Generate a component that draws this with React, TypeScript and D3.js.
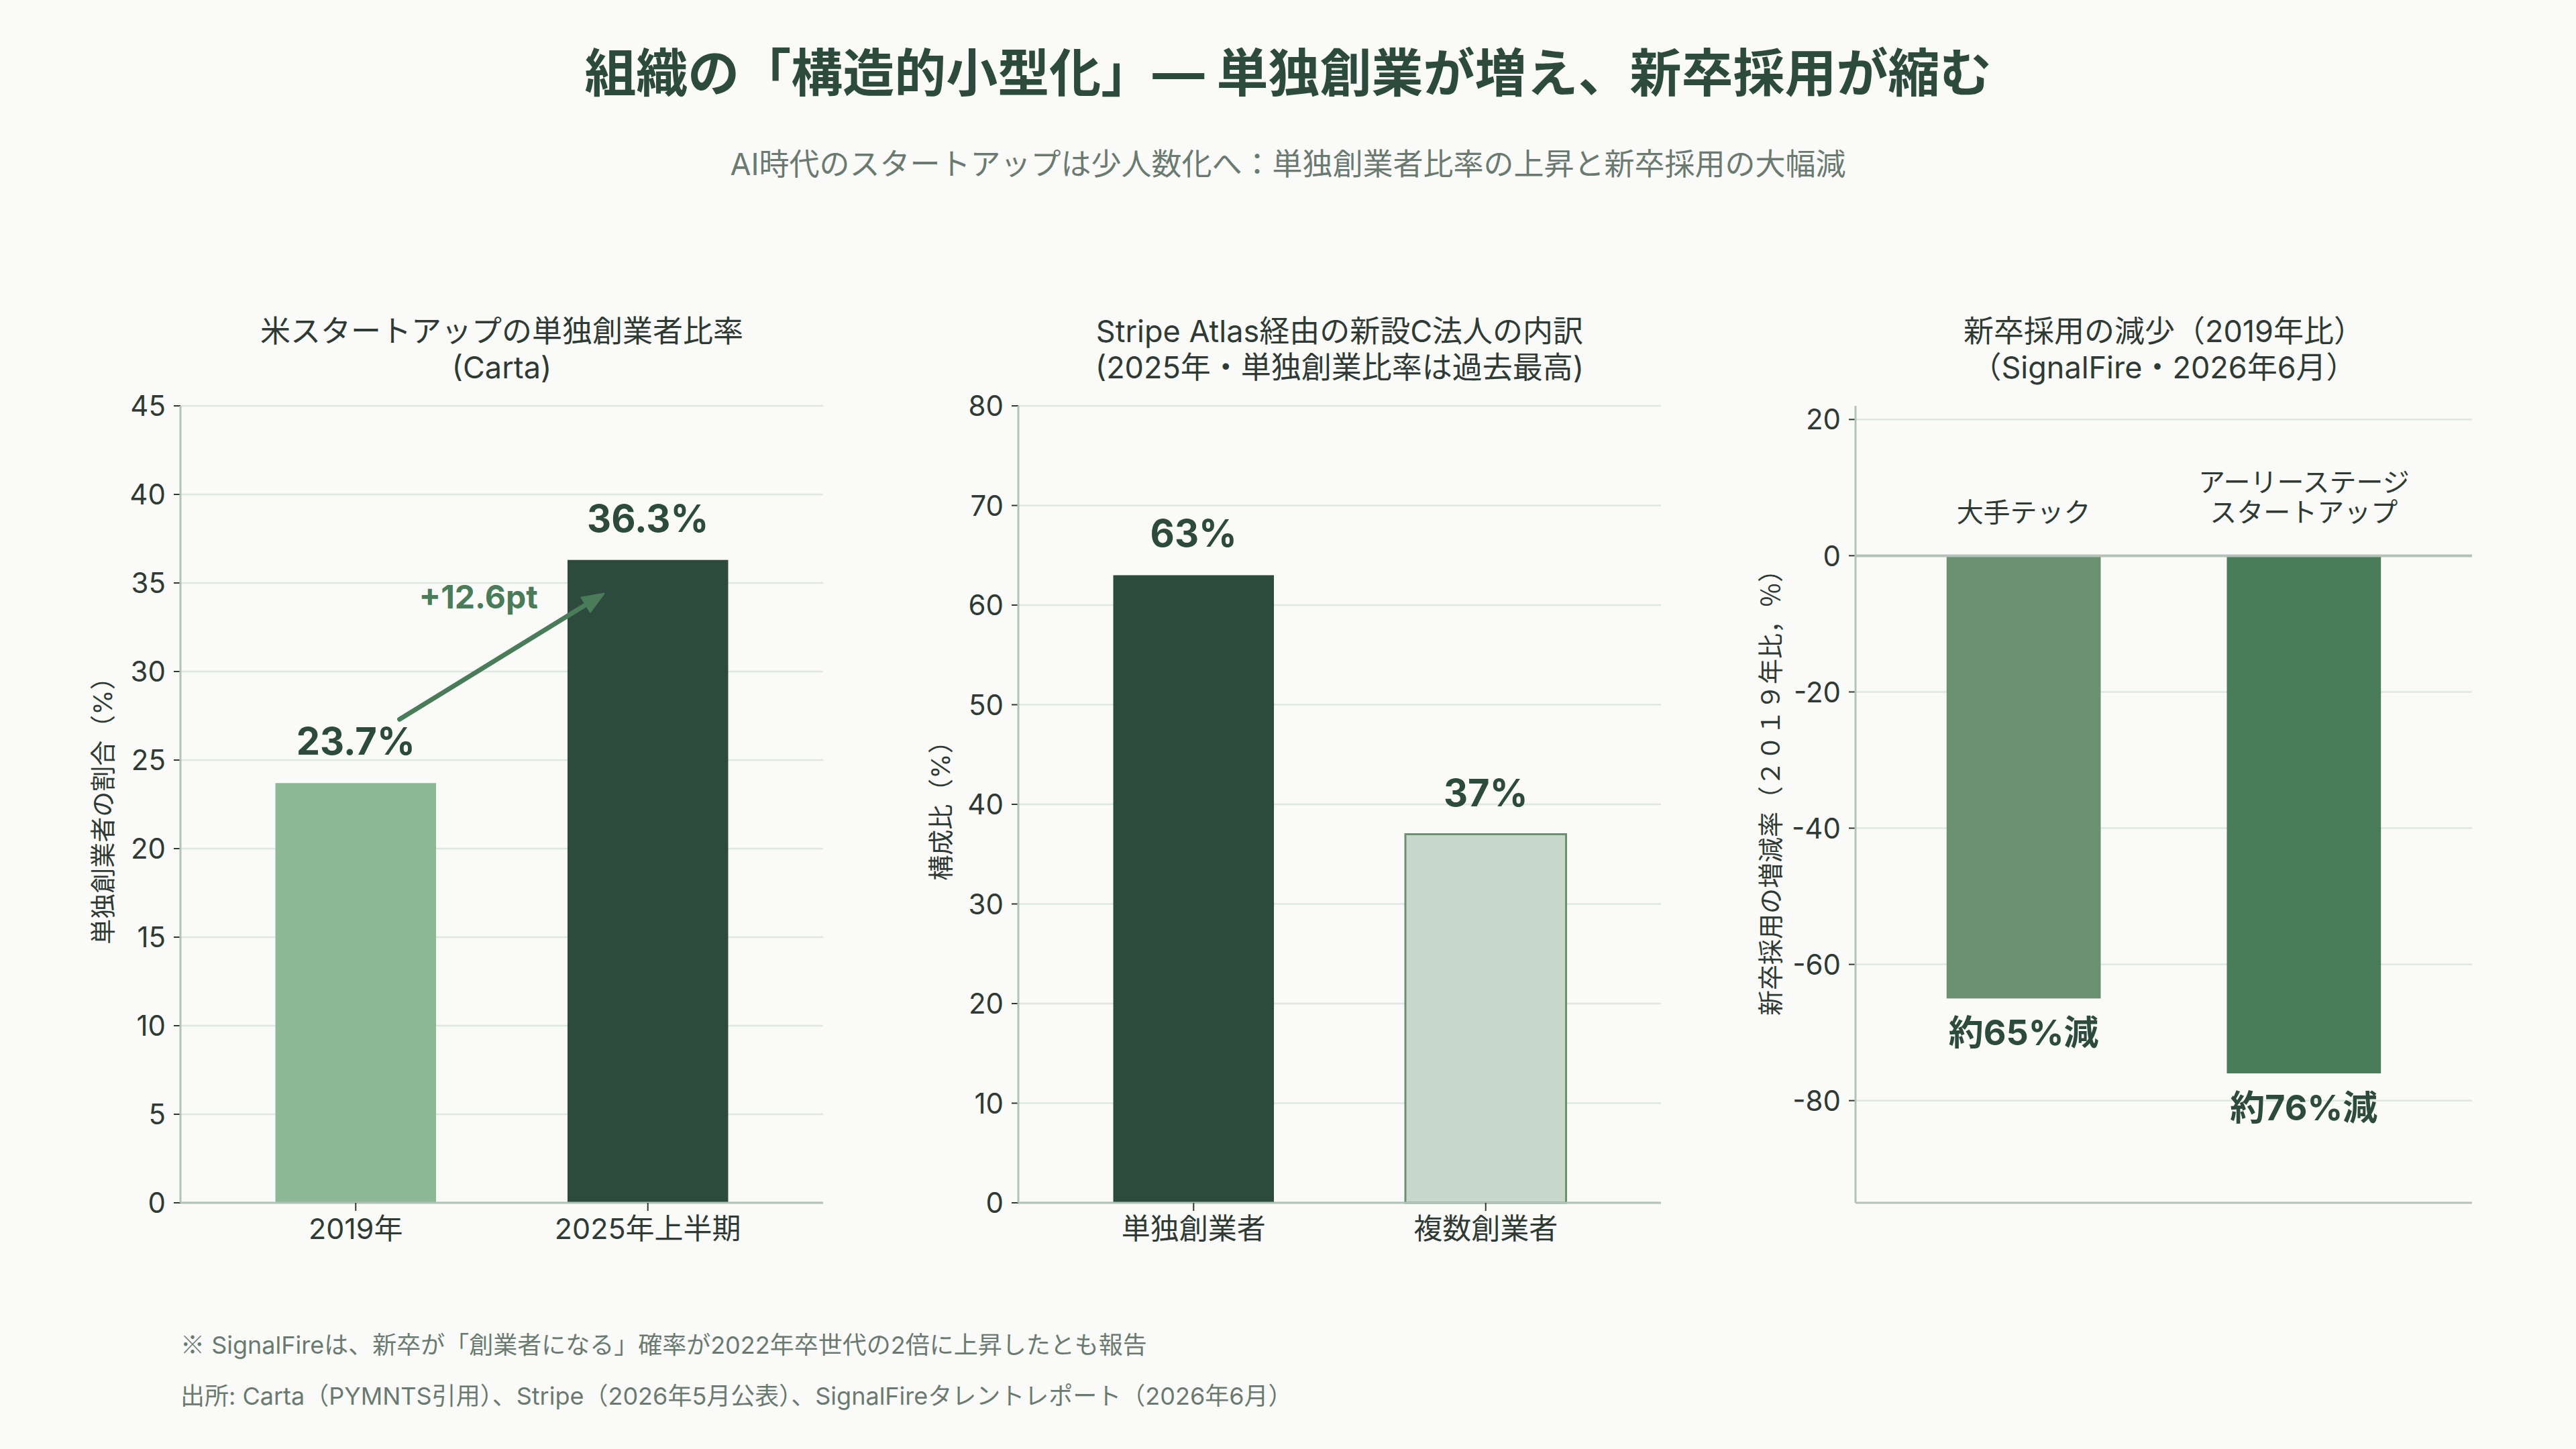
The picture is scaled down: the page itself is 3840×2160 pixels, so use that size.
import React from "react";
import * as d3 from "d3";

const titleText = "組織の「構造的小型化」— 単独創業が増え、新卒採用が縮む";
const subtitleText = "AI時代のスタートアップは少人数化へ：単独創業者比率の上昇と新卒採用の大幅減";

const p1Title = ["米スタートアップの単独創業者比率", "(Carta)"];
const p1Categories = ["2019年", "2025年上半期"];
const p1Values = [23.7, 36.3];
const p1Labels = ["23.7%", "36.3%"];
const p1Ticks = [0, 5, 10, 15, 20, 25, 30, 35, 40, 45];
const p1YLabel = "単独創業者の割合（%）";
const p1Arrow = { from: [0.15, 27.3], to: [0.85, 34.4], text: "+12.6pt", textPos: [0.42, 34.2] };

const p2Title = ["Stripe Atlas経由の新設C法人の内訳", "(2025年・単独創業比率は過去最高)"];
const p2Categories = ["単独創業者", "複数創業者"];
const p2Values = [63, 37];
const p2Labels = ["63%", "37%"];
const p2Ticks = [0, 10, 20, 30, 40, 50, 60, 70, 80];
const p2YLabel = "構成比（%）";

const p3Title = ["新卒採用の減少（2019年比）", "（SignalFire・2026年6月）"];
const p3Categories = [["大手テック"], ["アーリーステージ", "スタートアップ"]];
const p3Values = [-65, -76];
const p3Labels = ["約65%減", "約76%減"];
const p3Ticks = [-80, -60, -40, -20, 0, 20];
const p3YLabel = "新卒採用の増減率（２０１９年比，％）";

const footnoteMark = "※";
const footnotes = [
  " SignalFireは、新卒が「創業者になる」確率が2022年卒世代の2倍に上昇したとも報告",
  "出所: Carta（PYMNTS引用）、Stripe（2026年5月公表）、SignalFireタレントレポート（2026年6月）",
];

const CJK = "'Noto Sans CJK JP', sans-serif";
const FONT = "Inter, 'Noto Sans CJK JP', 'Noto Sans', sans-serif";
const DARK = "#2d4a3e";
const TEXT = "#2f3a34";
const GRID = "#dfe7e1";
const SPINE = "#b3c2b8";
const MUTED = "#6b7a70";
const ARROW = "#4a7c59";

const TOP = 605;
const BOTTOM = 1793;
const TICK_FS = 42;

function band(domain: string[], x0: number, x1: number) {
  return d3.scaleBand<string>().domain(domain).range([x0, x1]).paddingInner(0.45).paddingOuter(0.325);
}

function YAxis({ y, ticks, x0, x1, fmt }: any) {
  return (
    <g>
      {ticks.map((t: number) => (
        <line key={"g" + t} x1={x0} x2={x1} y1={y(t)} y2={y(t)} stroke={GRID} strokeWidth={2.5} />
      ))}
      {ticks.map((t: number) => (
        <g key={"t" + t}>
          <line x1={x0 - 10} x2={x0} y1={y(t)} y2={y(t)} stroke={TEXT} strokeWidth={2} />
          <text x={x0 - 22} y={y(t)} dy="0.36em" textAnchor="end" fontSize={TICK_FS} fill={TEXT}>
            {fmt ? fmt(t) : t}
          </text>
        </g>
      ))}
    </g>
  );
}

function PanelTitle({ lines, cx }: any) {
  return (
    <g>
      {lines.map((l: string, i: number) => (
        <text key={i} x={cx} y={510 + i * 54} textAnchor="middle" fontSize={45} fill={TEXT}>
          {l}
        </text>
      ))}
    </g>
  );
}

function XTicks({ x, cats }: any) {
  return (
    <g>
      {cats.map((c: string) => {
        const cx = (x(c) as number) + x.bandwidth() / 2;
        return (
          <g key={"x" + c}>
            <line x1={cx} x2={cx} y1={BOTTOM} y2={BOTTOM + 12} stroke={TEXT} strokeWidth={2} />
            <text x={cx} y={1847} textAnchor="middle" fontSize={43} fill={TEXT}>{c}</text>
          </g>
        );
      })}
    </g>
  );
}

function Spines({ x0, x1 }: any) {
  return (
    <g>
      <line x1={x0} x2={x0} y1={TOP} y2={BOTTOM} stroke={SPINE} strokeWidth={3} />
      <line x1={x0} x2={x1} y1={BOTTOM} y2={BOTTOM} stroke={SPINE} strokeWidth={3} />
    </g>
  );
}

function YLabel({ x, text, cy = (TOP + BOTTOM) / 2 }: any) {
  return (
    <text transform={`translate(${x},${cy}) rotate(-90)`} textAnchor="middle" dy="0.35em" fontSize={38} fill={TEXT}>
      {text}
    </text>
  );
}

function Panel1() {
  const x0 = 269, x1 = 1227;
  const x = band(p1Categories, x0, x1);
  const y = d3.scaleLinear().domain([0, 45]).range([BOTTOM, TOP]);
  const step = x.step();
  const c0 = (x(p1Categories[0]) as number) + x.bandwidth() / 2;
  const ux = (u: number) => c0 + u * step;
  const colors = ["#8db896", DARK];
  const ax = ux(p1Arrow.from[0]), ay = y(p1Arrow.from[1]);
  const bx = ux(p1Arrow.to[0]), by = y(p1Arrow.to[1]);
  const ang = Math.atan2(by - ay, bx - ax);
  const hl = 32, hw = 13;
  const baseX = bx - hl * Math.cos(ang), baseY = by - hl * Math.sin(ang);
  const px = -Math.sin(ang), py = Math.cos(ang);
  return (
    <g>
      <PanelTitle lines={p1Title} cx={(x0 + x1) / 2} />
      <YAxis y={y} ticks={p1Ticks} x0={x0} x1={x1} />
      {p1Categories.map((c, i) => (
        <rect key={c} x={x(c)} y={y(p1Values[i])} width={x.bandwidth()} height={y(0) - y(p1Values[i])} fill={colors[i]} />
      ))}
      {p1Categories.map((c, i) => (
        <text key={"v" + c} x={(x(c) as number) + x.bandwidth() / 2} y={y(p1Values[i]) - 42} textAnchor="middle" fontSize={56} fontWeight={700} fill={DARK}>
          {p1Labels[i]}
        </text>
      ))}
      <line x1={ax} y1={ay} x2={baseX} y2={baseY} stroke={ARROW} strokeWidth={7} strokeLinecap="round" />
      <path d={`M${bx},${by} L${baseX + px * hw},${baseY + py * hw} L${baseX - px * hw},${baseY - py * hw} Z`} fill={ARROW} stroke={ARROW} strokeWidth={2} strokeLinejoin="round" />
      <text x={ux(p1Arrow.textPos[0])} y={y(p1Arrow.textPos[1])} dy="0.36em" textAnchor="middle" fontSize={48} fontWeight={700} fill={ARROW}>
        {p1Arrow.text}
      </text>
      <Spines x0={x0} x1={x1} />
      <XTicks x={x} cats={p1Categories} />
      <YLabel x={154} text={p1YLabel} />
    </g>
  );
}

function Panel2() {
  const x0 = 1518, x1 = 2476;
  const x = band(p2Categories, x0, x1);
  const y = d3.scaleLinear().domain([0, 80]).range([BOTTOM, TOP]);
  const fills = [DARK, "#c8d9cb"];
  const strokes = ["none", "#6b8f71"];
  return (
    <g>
      <PanelTitle lines={p2Title} cx={(x0 + x1) / 2} />
      <YAxis y={y} ticks={p2Ticks} x0={x0} x1={x1} />
      {p2Categories.map((c, i) => (
        <rect key={c} x={x(c)} y={y(p2Values[i])} width={x.bandwidth()} height={y(0) - y(p2Values[i])} fill={fills[i]} stroke={strokes[i]} strokeWidth={3} />
      ))}
      {p2Categories.map((c, i) => (
        <text key={"v" + c} x={(x(c) as number) + x.bandwidth() / 2} y={y(p2Values[i]) - 42} textAnchor="middle" fontSize={56} fontWeight={700} fill={DARK}>
          {p2Labels[i]}
        </text>
      ))}
      <Spines x0={x0} x1={x1} />
      <XTicks x={x} cats={p2Categories} />
      <YLabel x={1403} text={p2YLabel} />
    </g>
  );
}

function Panel3() {
  const x0 = 2766, x1 = 3685;
  const keys = p3Categories.map((c) => c.join(""));
  const x = band(keys, x0, x1);
  const y = d3.scaleLinear().domain([-95, 22]).range([BOTTOM, TOP]);
  const fills = ["#6b8f71", "#4a7c59"];
  return (
    <g>
      <PanelTitle lines={p3Title} cx={(x0 + x1) / 2} />
      <YAxis y={y} ticks={p3Ticks} x0={x0} x1={x1} fmt={(t: number) => (t < 0 ? "-" + Math.abs(t) : String(t))} />
      {keys.map((k, i) => (
        <rect key={k} x={x(k)} y={y(0)} width={x.bandwidth()} height={y(p3Values[i]) - y(0)} fill={fills[i]} />
      ))}
      <line x1={x0} x2={x1} y1={y(0)} y2={y(0)} stroke={SPINE} strokeWidth={4} />
      {keys.map((k, i) => {
        const cx = (x(k) as number) + x.bandwidth() / 2;
        const lines = p3Categories[i];
        return (
          <g key={"c" + k}>
            {lines.map((l, j) => (
              <text key={j} x={cx} y={y(5) - (lines.length - 1 - j) * 45} textAnchor="middle" fontSize={40} fill={TEXT}>{l}</text>
            ))}
            <text x={cx} y={y(p3Values[i]) + 70} textAnchor="middle" fontSize={52} fontWeight={700} fill={DARK}>{p3Labels[i]}</text>
          </g>
        );
      })}
      <Spines x0={x0} x1={x1} />
      <YLabel x={2640} text={p3YLabel} cy={1172} />
    </g>
  );
}

export default function App() {
  return (
    <svg width={3840} height={2160} viewBox="0 0 3840 2160" style={{ position: "absolute", left: 0, top: 0, display: "block" }} fontFamily={FONT}>
      <rect width={3840} height={2160} fill="#fafaf9" />
      <text x={1920} y={137} textAnchor="middle" fontSize={77} fontWeight={700} fill={DARK}>{titleText}</text>
      <text x={1920} y={261} textAnchor="middle" fontSize={45} fill={MUTED}>{subtitleText}</text>
      <Panel1 />
      <Panel2 />
      <Panel3 />
      <text x={269} y={2018} fontSize={36} fill={MUTED}>
        <tspan fontFamily={CJK}>{footnoteMark}</tspan>
        {footnotes[0]}
      </text>
      <text x={269} y={2094} fontSize={36} fill={MUTED}>{footnotes[1]}</text>
    </svg>
  );
}
